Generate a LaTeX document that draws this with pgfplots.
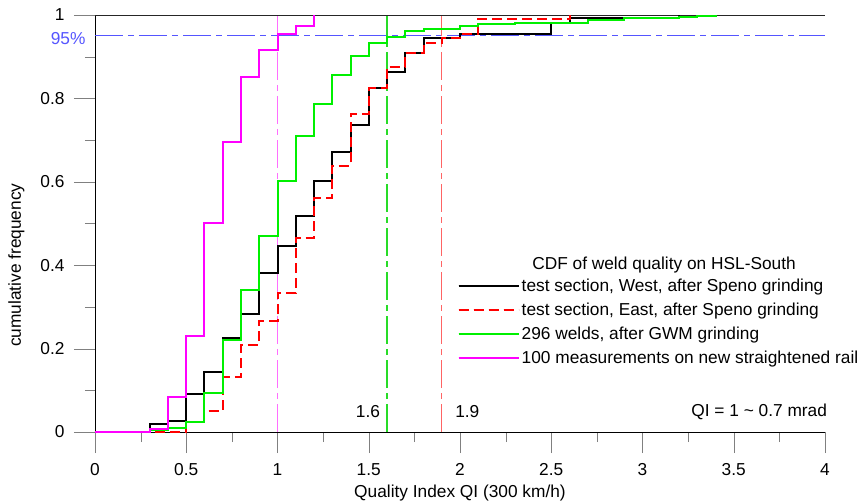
\documentclass[border=0pt]{standalone}
\usepackage{fontspec}
\setmainfont{Liberation Sans}
\usepackage{pgfplots}
\pgfplotsset{compat=1.18}
\usepackage{pgfplotstable}

\definecolor{cred}{RGB}{255,0,0}
\definecolor{cgreen}{RGB}{0,240,0}
\definecolor{cmag}{RGB}{255,0,255}
\definecolor{refblue}{RGB}{85,85,255}
\definecolor{refmag}{RGB}{255,110,255}
\definecolor{refgreen}{RGB}{40,220,40}
\definecolor{refred}{RGB}{255,100,100}

\pgfplotstableread{
x y
0 0
0.3 0.019
0.4 0.027
0.5 0.091
0.6 0.145
0.7 0.226
0.8 0.282
0.9 0.382
1.0 0.446
1.1 0.519
1.2 0.602
1.3 0.672
1.4 0.736
1.5 0.826
1.6 0.864
1.7 0.910
1.8 0.944
1.9 0.944
2.0 0.954
2.5 0.981
2.6 0.992
3.2 1.0
}\west

\pgfplotstableread{
x y
0 0
0.5 0.024
0.6 0.051
0.7 0.132
0.8 0.209
0.9 0.266
1.0 0.333
1.1 0.466
1.2 0.560
1.3 0.639
1.4 0.763
1.5 0.826
1.6 0.876
1.7 0.910
1.8 0.932
1.9 0.946
2.0 0.954
2.1 0.990
2.6 1.0
}\east

\pgfplotstableread{
x y
0 0
0.3 0.005
0.4 0.010
0.5 0.025
0.6 0.094
0.7 0.220
0.8 0.340
0.9 0.470
1.0 0.602
1.1 0.710
1.2 0.787
1.3 0.855
1.4 0.902
1.5 0.932
1.6 0.947
1.7 0.962
1.8 0.966
2.0 0.974
2.1 0.978
2.3 0.982
2.7 0.987
2.9 0.992
3.2 0.995
3.3 0.998
3.4 1.0
}\gwm

\pgfplotstableread{
x y
0 0
0.3 0.008
0.4 0.084
0.5 0.230
0.6 0.500
0.7 0.695
0.8 0.852
0.9 0.916
1.0 0.954
1.1 0.974
1.2 1.0
}\newrail

\begin{document}
\begin{tikzpicture}[font=\fontsize{17.3bp}{20bp}\selectfont]
\useasboundingbox (-95bp,-72bp) rectangle (769bp,432bp);
\begin{axis}[
  scale only axis, width=730bp, height=417bp,
  at={(0,0)}, anchor=south west,
  xmin=0, xmax=4, ymin=0, ymax=1,
  axis lines=left, axis line style={-},
  xtick={0,0.5,1,1.5,2,2.5,3,3.5,4},
  xticklabels={0,0.5,1,1.5,2,2.5,3,3.5,4},
  minor xtick={0.25,0.75,1.25,1.75,2.25,2.75,3.25,3.75},
  ytick={0,0.2,0.4,0.6,0.8,1},
  yticklabels={0,0.2,0.4,0.6,0.8,1},
  minor ytick={0.1,0.3,0.5,0.7,0.9},
  tick align=outside,
  major tick length=21bp, minor tick length=10bp,
  xticklabel style={yshift=-7bp},
  yticklabel style={xshift=-6bp},
  /pgf/number format/assume math mode=true,
  clip=false,
  legend image code/.code={\path (0bp,0bp) -- (60bp,0bp);\draw[#1] (0bp,0bp) -- (52bp,0bp);},
  legend style={at={(axis cs:1.97,0.378)}, anchor=north west, draw=none, fill=none,
    row sep=6bp, font=\fontsize{17.3bp}{20bp}\selectfont},
  legend cell align=left,
]
\addplot[draw=refblue, line width=1.2bp, dash pattern=on 28bp off 5bp on 6bp off 5bp, forget plot] coordinates {(0,0.95) (4,0.95)};
\addplot[draw=refmag, line width=1.2bp, dash pattern=on 28bp off 5bp on 6bp off 5bp, forget plot] coordinates {(1,0) (1,1)};
\addplot[draw=refgreen, line width=1.1bp, dash pattern=on 28bp off 5bp on 6bp off 5bp, forget plot] coordinates {(1.6,0) (1.6,1)};
\addplot[draw=refred, line width=1.2bp, dash pattern=on 28bp off 5bp on 6bp off 5bp, forget plot] coordinates {(1.9,0) (1.9,1)};
\addplot[draw=black!85, line width=0.8bp, forget plot] coordinates {(0,1) (4,1)};

\addplot[const plot, draw=black, line width=2bp] table {\west};
\addlegendentry{test section, West, after Speno grinding}
\addplot[const plot, draw=cred, line width=2bp, dash pattern=on 10bp off 5bp] table {\east};
\addlegendentry{test section, East, after Speno grinding}
\addplot[const plot, draw=cgreen, line width=2bp] table {\gwm};
\addlegendentry{296 welds, after GWM grinding}
\addplot[const plot, draw=cmag, line width=2bp] table {\newrail};
\addlegendentry{100 measurements on new straightened rail}

\node at (axis cs:3.118,0.400) {CDF of weld quality on HSL-South};
\node[anchor=east, text=refblue] at (axis cs:0,0.95) [xshift=-6bp, yshift=-3bp] {95\%};
\node at (axis cs:1.496,0.048) {1.6};
\node at (axis cs:2.04,0.048) {1.9};
\node[anchor=east] at (axis cs:4.03,0.048) {QI = 1 \textasciitilde{} 0.7 mrad};
\node at (axis cs:2,0) [yshift=-61bp] {Quality Index QI (300 km/h)};
\node[rotate=90] at (axis cs:-0.43,0.40) {cumulative frequency};
\end{axis}
\end{tikzpicture}
\end{document}
